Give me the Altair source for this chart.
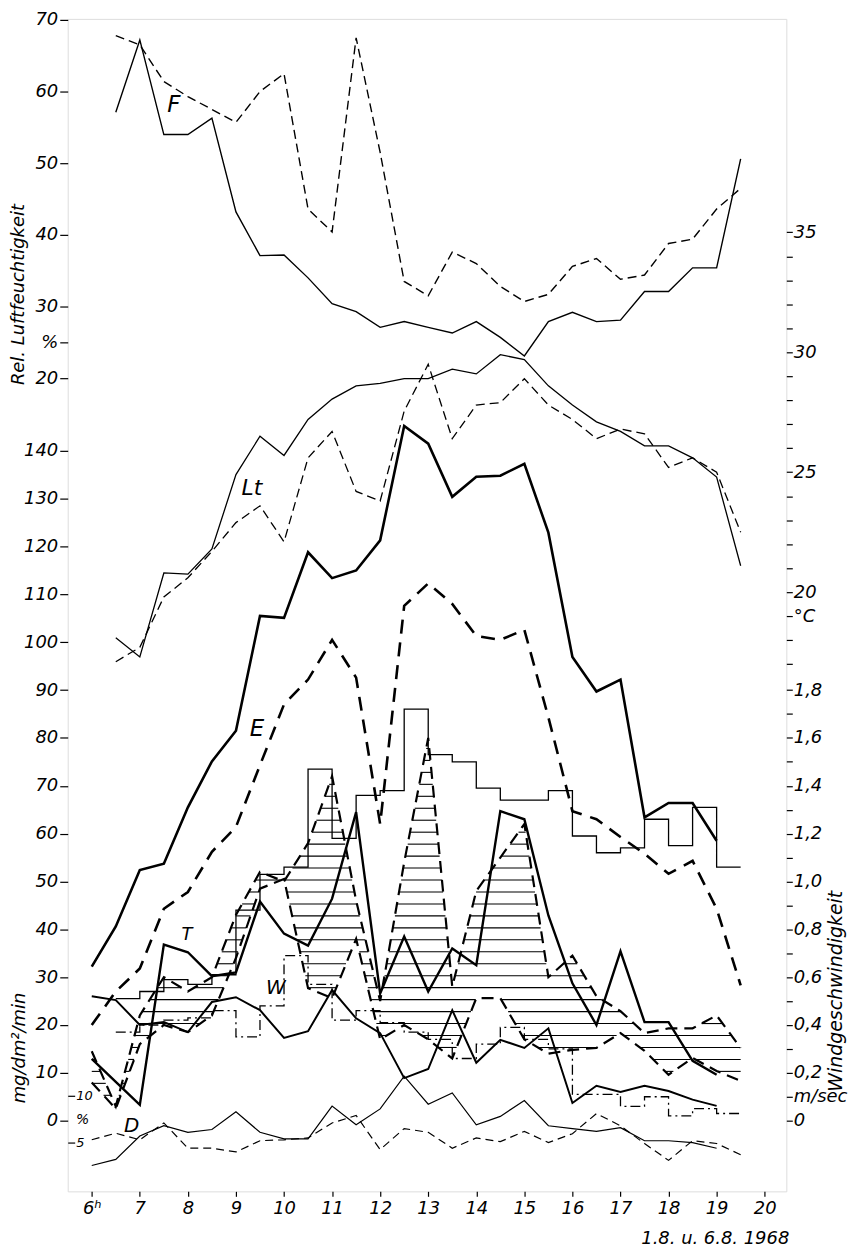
import altair as alt
import pandas as pd

# ---------------- data ----------------
hours = [6 + 0.5 * i for i in range(28)]  # 6.0 ... 19.5

# relative humidity F (%)
F1 = [None, 57.1, 67.2, 54.0, 54.0, 56.3, 43.2, 37.1, 37.2, 34.0, 30.4, 29.3, 27.1, 27.9,
      27.1, 26.3, 27.9, 25.7, 23.1, 27.9, 29.2, 27.9, 28.1, 32.1, 32.1, 35.4, 35.4, 50.6]
F2 = [None, 67.8, 66.5, 61.4, 59.3, 57.5, 55.7, 60.0, 62.5, 43.6, 40.4, 67.5, 51.5, 33.5,
      31.5, 37.6, 36.0, 32.8, 30.7, 31.7, 35.6, 36.7, 33.8, 34.4, 38.8, 39.4, 43.6, 46.5]
# air temperature Lt (deg C)
LT1 = [None, 18.1, 17.3, 20.8, 20.75, 21.8, 24.9, 26.5, 25.7, 27.2, 28.05, 28.6, 28.7, 28.9,
       28.9, 29.3, 29.1, 29.9, 29.7, 28.6, 27.8, 27.1, 26.7, 26.1, 26.1, 25.6, 24.8, 21.1]
LT2 = [None, 17.1, 17.7, 19.8, 20.6, 21.7, 22.9, 23.6, 22.1, 25.6, 26.7, 24.2, 23.8, 27.55,
       29.5, 26.4, 27.8, 27.9, 28.9, 27.8, 27.2, 26.4, 26.8, 26.6, 25.2, 25.6, 25.0, 22.5]
# evaporation E (mg/dm2/min)
E1 = [32.2, 40.6, 52.4, 53.7, 65.5, 75.1, 81.5, 105.5, 105.1, 118.8, 113.4, 115.0, 121.3, 145.2,
      141.5, 130.4, 134.6, 134.8, 137.3, 122.9, 96.9, 89.7, 92.2, 63.4, 66.4, 66.4, 58.5, None]
E2 = [20.0, 27.0, 31.8, 44.3, 47.8, 56.2, 61.4, 74.3, 87.0, 92.2, 100.5, 92.6, 62.0, 107.6,
      112.3, 108.0, 101.3, 100.5, 102.6, 84.3, 64.7, 63.0, 59.3, 55.8, 51.6, 54.3, 44.3, 28.3]
# transpiration T and W (mg/dm2/min)
T1 = [12.9, 8.1, 3.3, 36.8, 35.2, 30.2, 31.0, 45.8, 39.1, 36.6, 46.4, 64.5, 26.6, 38.5,
      27.0, 36.0, 32.5, 64.7, 63.0, 42.9, 28.7, 20.0, 35.4, 20.6, 20.6, 12.5, 9.6, None]
W1 = [26.0, 25.2, 20.0, 20.6, 18.5, 24.8, 25.8, 23.1, 17.3, 18.7, 27.3, 21.4, 18.3, 8.9,
      10.8, 23.1, 12.1, 16.9, 15.2, 19.3, 3.7, 7.3, 6.0, 7.3, 6.2, 4.4, 3.1, None]
T2 = [14.5, 3.0, 22.0, 30.0, 27.0, 30.0, 43.0, 52.0, 50.0, 58.0, 72.0, 46.0, 25.0, 54.0,
      80.0, 28.0, 48.0, 55.0, 62.0, 30.0, 34.5, 26.0, 22.9, 18.3, 19.3, 19.3, 22.0, 15.2]
W2 = [8.0, 2.5, 16.0, 20.0, 18.5, 22.0, 34.0, 48.5, 50.5, 27.7, 25.6, 38.0, 17.0, 20.0,
      17.0, 13.0, 25.6, 25.6, 17.0, 14.0, 14.8, 15.2, 18.3, 14.6, 9.6, 13.1, 10.4, 8.3]
# saturation deficit D (%)
D1 = [2.55, 3.2, 5.7, 6.8, 6.1, 6.4, 8.3, 6.1, 5.4, 5.4, 8.9, 6.9, 8.6, 12.1,
      9.1, 10.3, 6.9, 7.8, 9.5, 6.8, 6.5, 6.2, 6.6, 5.2, 5.2, 5.0, 4.4, None]
D2 = [5.3, 6.0, 5.3, 7.1, 4.4, 4.4, 4.0, 5.2, 5.3, 5.5, 7.1, 7.9, 4.25, 6.5,
      6.1, 4.4, 5.5, 5.1, 6.2, 5.0, 5.95, 8.1, 6.8, 4.9, 3.1, 5.2, 4.9, 3.7]
# wind speed (m/sec), half-hour steps starting at 6.5 h
step_hours = [6.5 + 0.5 * i for i in range(26)]  # 6.5 ... 19.0
WIND1 = [0.51, 0.54, 0.59, 0.57, 0.61, 0.88, 1.03, 1.06, 1.47, 1.18, 1.36, 1.38, 1.72,
         1.53, 1.50, 1.39, 1.34, 1.34, 1.38, 1.19, 1.12, 1.14, 1.26, 1.15, 1.31, 1.06]
WIND2 = [0.37, 0.40, 0.42, 0.43, 0.46, 0.35, 0.48, 0.69, 0.57, 0.42, 0.46, 0.41, 0.37,
         0.34, 0.26, 0.32, 0.39, 0.34, 0.30, 0.11, 0.11, 0.06, 0.10, 0.02, 0.05, 0.03]

x_ticks = list(range(6, 21))
F_ticks = [20, 25, 30, 40, 50, 60, 70]
E_ticks = list(range(0, 150, 10))
D_ticks = [5, 10]
WIND_ticks = [round(0.1 * i, 1) for i in range(19)]
T_ticks = list(range(17, 36))

# ---------------- geometry of the scales ----------------
W, H = 722, 1178
X_DOM = [5.5, 20.45]
F_DOM = [-93.47, 70.14]
T_DOM = [-4.98, 43.90]
E_DOM = [-14.77, 230.29]
WIND_DOM = [E_DOM[0] / 50, E_DOM[1] / 50]
D_DOM = [-0.21, 125.1]

FONT = "DejaVu Sans"
AX = dict(title=None, grid=False, domain=False, labelFont=FONT, labelFontStyle="italic",
          labelColor="black", tickColor="black", tickWidth=1.2)


def series(vals, hrs=hours):
    return pd.DataFrame([{"h": h, "v": v} for h, v in zip(hrs, vals) if v is not None])


def steps(vals):
    rows = [{"h": h, "v": v} for h, v in zip(step_hours, vals)]
    rows.append({"h": step_hours[-1] + 0.5, "v": vals[-1]})
    return pd.DataFrame(rows)


xenc = alt.X("h:Q", scale=alt.Scale(domain=X_DOM, nice=False, zero=False),
             axis=alt.Axis(values=x_ticks, tickSize=5, labelPadding=3, labelFontSize=18,
                           labelExpr="datum.value == 6 ? '6ʰ' : datum.value", **AX))


def yenc(dom, axis=None):
    return alt.Y("v:Q", scale=alt.Scale(domain=dom, nice=False, zero=False), axis=axis)


def line(df, dom, width, axis, dash=None, interp="linear"):
    kw = dict(color="black", strokeWidth=width, interpolate=interp, clip=True)
    if dash:
        kw["strokeDash"] = dash
    return alt.Chart(df).mark_line(**kw).encode(x=xenc, y=yenc(dom, axis))


# hatch between T2 (upper) and W2 (lower)
def hatch(upper, lower, spacing=2.5):
    segs = []
    lev = 0.3
    while lev < 90:
        cur = None
        for i in range(len(hours) - 1):
            x0, x1 = hours[i], hours[i + 1]
            lo, hi = 0.0, 1.0
            ok = True
            for a0, a1 in [(upper[i] - lev, upper[i + 1] - lev), (lev - lower[i], lev - lower[i + 1])]:
                if a0 >= 0 and a1 >= 0:
                    continue
                if a0 < 0 and a1 < 0:
                    ok = False
                    break
                t = a0 / (a0 - a1)
                if a0 < 0:
                    lo = max(lo, t)
                else:
                    hi = min(hi, t)
            if ok and lo < hi:
                s, e = x0 + lo * (x1 - x0), x0 + hi * (x1 - x0)
                if cur and abs(cur[1] - s) < 1e-9:
                    cur[1] = e
                else:
                    if cur:
                        segs.append({"v": lev, "h": cur[0], "h2": cur[1]})
                    cur = [s, e]
        if cur:
            segs.append({"v": lev, "h": cur[0], "h2": cur[1]})
        lev += spacing
    return pd.DataFrame(segs)


hatch_df = hatch(T2, W2)

# ---------------- axes ----------------
F_axis = alt.Axis(orient="left", values=F_ticks, tickSize=8, labelPadding=2, labelFontSize=18,
                  labelExpr="datum.value == 25 ? '%' : datum.value", **AX)
E_axis = alt.Axis(orient="left", values=E_ticks, tickSize=8, labelPadding=2, labelFontSize=18, **AX)
D_axis = alt.Axis(orient="right", offset=-W, values=D_ticks, tickSize=7, labelPadding=1,
                  labelFontSize=13, **AX)
WIND_axis = alt.Axis(orient="right", values=WIND_ticks, tickSize=6, labelPadding=1, labelFontSize=18,
                     labelExpr="datum.value < 0.05 ? '0' : (abs(datum.value - 0.1) < 0.01 ? 'm/sec' : "
                               "(round(datum.value * 10) % 2 == 0 ? replace(format(datum.value, '.1f'), '.', ',') : ''))",
                     **AX)
T_axis = alt.Axis(orient="right", values=T_ticks, tickSize=6, labelPadding=1, labelFontSize=18,
                  labelExpr="datum.value == 19 ? '°C' : (datum.value % 5 == 0 ? datum.value : '')", **AX)

# ---------------- layers ----------------
F_group = alt.layer(
    line(series(F1), F_DOM, 1.4, F_axis),
    line(series(F2), F_DOM, 1.4, F_axis, dash=[9, 5]),
)
T_group = alt.layer(
    line(series(LT1), T_DOM, 1.3, T_axis),
    line(series(LT2), T_DOM, 1.3, T_axis, dash=[9, 5]),
)
hatch_layer = alt.Chart(hatch_df).mark_rule(color="black", strokeWidth=1.1).encode(
    x=xenc, x2="h2:Q", y=yenc(E_DOM, E_axis))
E_group = alt.layer(
    line(series(E1), E_DOM, 2.6, E_axis),
    line(series(E2), E_DOM, 2.6, E_axis, dash=[14, 9]),
    hatch_layer,
    line(series(T2), E_DOM, 2.2, E_axis, dash=[12, 7]),
    line(series(W2), E_DOM, 2.2, E_axis, dash=[12, 7]),
    line(series(T1), E_DOM, 2.4, E_axis),
    line(series(W1), E_DOM, 2.0, E_axis),
)
WIND_group = alt.layer(
    line(steps(WIND1), WIND_DOM, 1.3, WIND_axis, interp="step-after"),
    line(steps(WIND2), WIND_DOM, 1.3, WIND_axis, dash=[10, 4, 2, 4], interp="step-after"),
)
D_group = alt.layer(
    line(series(D1), D_DOM, 1.2, D_axis),
    line(series(D2), D_DOM, 1.2, D_axis, dash=[8, 5]),
)


def label(text, h, v, dom, size):
    df = pd.DataFrame([{"h": h, "v": v, "t": text}])
    return alt.Chart(df).mark_text(fontSize=size, fontStyle="italic", font=FONT,
                                   align="center", baseline="middle").encode(
        x=xenc, y=yenc(dom), text="t:N")


labels = [
    label("F", 7.71, 58.1, F_DOM, 23),
    label("Lt", 9.33, 24.36, T_DOM, 22),
    label("E", 9.44, 81.8, E_DOM, 23),
    label("T", 7.98, 38.7, E_DOM, 18),
    label("W", 9.83, 27.7, E_DOM, 20),
    label("D", 6.83, 6.8, D_DOM, 20),
    label("%", 5.81, 7.45, D_DOM, 14),
]


def free_text(text, x, y, size, angle=0, align="center"):
    df = pd.DataFrame([{"t": text}])
    return alt.Chart(df).mark_text(fontSize=size, fontStyle="italic", font=FONT, angle=angle,
                                   align=align, baseline="middle").encode(
        x=alt.value(x), y=alt.value(y), text="t:N")


titles = [
    free_text("Rel. Luftfeuchtigkeit", -49, 277, 18, angle=270),
    free_text("mg/dm²/min", -48, 1034, 18, angle=270),
    free_text("Windgeschwindigkeit", W + 50, 977, 19, angle=270),
    free_text("1.8. u. 6.8. 1968", W + 3, 1226, 18, align="right"),
]

chart = alt.layer(
    F_group, T_group, E_group, WIND_group, D_group, *labels, *titles
).resolve_scale(y="independent").properties(
    width=W, height=H,
    autosize=alt.AutoSizeParams(type="none"),
    padding={"left": 60, "top": 8, "right": 68, "bottom": 56},
).configure_view(stroke="black", strokeWidth=1.6).configure(background="white")

chart.save("out.html", embed_options={"renderer": "svg", "actions": False})
